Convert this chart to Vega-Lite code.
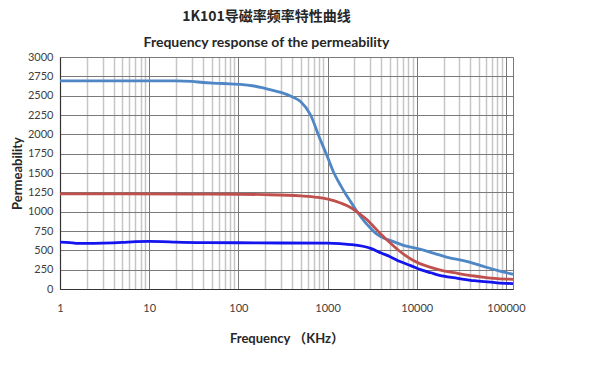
{
  "$schema": "https://vega.github.io/schema/vega-lite/v6.json",
  "width": 453,
  "height": 232,
  "autosize": {"type": "none"},
  "padding": {"left": 60, "top": 57, "right": 87, "bottom": 77},
  "background": "white",
  "title": {
    "text": "1K101导磁率频率特性曲线",
    "subtitle": "Frequency response of the permeability",
    "font": "Noto Sans CJK SC",
    "fontSize": 14,
    "fontWeight": "bold",
    "color": "#262626",
    "subtitleFont": "Lato",
    "subtitleFontSize": 14,
    "subtitleFontWeight": "bold",
    "subtitleColor": "#262626",
    "subtitlePadding": 12,
    "anchor": "middle",
    "frame": "group",
    "offset": 1,
    "dx": -20
  },
  "data": {
    "values": [
      {"freq": 1, "mu": 2690, "series": "A"},
      {"freq": 5, "mu": 2690, "series": "A"},
      {"freq": 20, "mu": 2690, "series": "A"},
      {"freq": 30, "mu": 2685, "series": "A"},
      {"freq": 40, "mu": 2670, "series": "A"},
      {"freq": 60, "mu": 2660, "series": "A"},
      {"freq": 81, "mu": 2652, "series": "A"},
      {"freq": 105, "mu": 2647, "series": "A"},
      {"freq": 150, "mu": 2625, "series": "A"},
      {"freq": 193, "mu": 2597, "series": "A"},
      {"freq": 250, "mu": 2565, "series": "A"},
      {"freq": 323, "mu": 2530, "series": "A"},
      {"freq": 400, "mu": 2485, "series": "A"},
      {"freq": 498, "mu": 2425, "series": "A"},
      {"freq": 645, "mu": 2250, "series": "A"},
      {"freq": 800, "mu": 1975, "series": "A"},
      {"freq": 993, "mu": 1715, "series": "A"},
      {"freq": 1180, "mu": 1500, "series": "A"},
      {"freq": 1400, "mu": 1340, "series": "A"},
      {"freq": 1600, "mu": 1225, "series": "A"},
      {"freq": 1812, "mu": 1130, "series": "A"},
      {"freq": 2158, "mu": 995, "series": "A"},
      {"freq": 2600, "mu": 870, "series": "A"},
      {"freq": 3041, "mu": 785, "series": "A"},
      {"freq": 3600, "mu": 705, "series": "A"},
      {"freq": 4300, "mu": 655, "series": "A"},
      {"freq": 5100, "mu": 625, "series": "A"},
      {"freq": 7870, "mu": 550, "series": "A"},
      {"freq": 10170, "mu": 522, "series": "A"},
      {"freq": 15670, "mu": 461, "series": "A"},
      {"freq": 22130, "mu": 410, "series": "A"},
      {"freq": 37150, "mu": 353, "series": "A"},
      {"freq": 52300, "mu": 302, "series": "A"},
      {"freq": 80000, "mu": 240, "series": "A"},
      {"freq": 120000, "mu": 190, "series": "A"},

      {"freq": 1, "mu": 1230, "series": "B"},
      {"freq": 30, "mu": 1228, "series": "B"},
      {"freq": 100, "mu": 1225, "series": "B"},
      {"freq": 200, "mu": 1220, "series": "B"},
      {"freq": 500, "mu": 1203, "series": "B"},
      {"freq": 765, "mu": 1185, "series": "B"},
      {"freq": 1035, "mu": 1160, "series": "B"},
      {"freq": 1400, "mu": 1112, "series": "B"},
      {"freq": 1812, "mu": 1055, "series": "B"},
      {"freq": 2350, "mu": 962, "series": "B"},
      {"freq": 2794, "mu": 892, "series": "B"},
      {"freq": 3300, "mu": 805, "series": "B"},
      {"freq": 3944, "mu": 712, "series": "B"},
      {"freq": 5100, "mu": 591, "series": "B"},
      {"freq": 6500, "mu": 485, "series": "B"},
      {"freq": 8570, "mu": 388, "series": "B"},
      {"freq": 11000, "mu": 325, "series": "B"},
      {"freq": 14370, "mu": 280, "series": "B"},
      {"freq": 20000, "mu": 235, "series": "B"},
      {"freq": 28640, "mu": 203, "series": "B"},
      {"freq": 44150, "mu": 168, "series": "B"},
      {"freq": 57030, "mu": 151, "series": "B"},
      {"freq": 80000, "mu": 135, "series": "B"},
      {"freq": 120000, "mu": 125, "series": "B"},

      {"freq": 1, "mu": 605, "series": "C"},
      {"freq": 1.3, "mu": 600, "series": "C"},
      {"freq": 1.5, "mu": 590, "series": "C"},
      {"freq": 2, "mu": 590, "series": "C"},
      {"freq": 3, "mu": 593, "series": "C"},
      {"freq": 5, "mu": 602, "series": "C"},
      {"freq": 7, "mu": 612, "series": "C"},
      {"freq": 10, "mu": 615, "series": "C"},
      {"freq": 14, "mu": 612, "series": "C"},
      {"freq": 20, "mu": 605, "series": "C"},
      {"freq": 44, "mu": 599, "series": "C"},
      {"freq": 100, "mu": 598, "series": "C"},
      {"freq": 300, "mu": 595, "series": "C"},
      {"freq": 1000, "mu": 592, "series": "C"},
      {"freq": 1812, "mu": 575, "series": "C"},
      {"freq": 3041, "mu": 526, "series": "C"},
      {"freq": 4000, "mu": 465, "series": "C"},
      {"freq": 5100, "mu": 415, "series": "C"},
      {"freq": 6500, "mu": 355, "series": "C"},
      {"freq": 8570, "mu": 302, "series": "C"},
      {"freq": 11000, "mu": 250, "series": "C"},
      {"freq": 14370, "mu": 210, "series": "C"},
      {"freq": 20000, "mu": 165, "series": "C"},
      {"freq": 28640, "mu": 138, "series": "C"},
      {"freq": 44150, "mu": 107, "series": "C"},
      {"freq": 57030, "mu": 94, "series": "C"},
      {"freq": 80000, "mu": 80, "series": "C"},
      {"freq": 120000, "mu": 69, "series": "C"}
    ]
  },
  "mark": {"type": "line", "interpolate": "monotone", "strokeWidth": 2.8, "clip": true},
  "encoding": {
    "x": {
      "field": "freq",
      "type": "quantitative",
      "scale": {"type": "log", "domain": [1, 120000], "nice": false},
      "axis": {
        "title": "Frequency （KHz）",
        "values": [1,2,3,4,5,6,7,8,9,10,20,30,40,50,60,70,80,90,100,200,300,400,500,600,700,800,900,1000,2000,3000,4000,5000,6000,7000,8000,9000,10000,20000,30000,40000,50000,60000,70000,80000,90000,100000],
        "labelExpr": "indexof([1,10,100,1000,10000,100000], datum.value) >= 0 ? format(datum.value, 'd') : ''",
        "labelOverlap": false,
        "labelBound": false,
        "labelFlush": false,
        "labelPadding": 13,
        "ticks": false,
        "grid": true,
        "gridColor": {"condition": {"test": "indexof([1,10,100,1000,10000,100000], datum.value) >= 0", "value": "#7a7a7a"}, "value": "#c6c6c6"},
        "gridWidth": {"condition": {"test": "indexof([1,10,100,1000,10000,100000], datum.value) >= 0", "value": 1}, "value": 1.5},
        "titlePadding": 19
      }
    },
    "y": {
      "field": "mu",
      "type": "quantitative",
      "scale": {"domain": [0, 3000], "nice": false},
      "axis": {
        "title": "Permeability",
        "values": [0,250,500,750,1000,1250,1500,1750,2000,2250,2500,2750,3000],
        "format": "d",
        "ticks": false,
        "labelPadding": 7,
        "grid": true,
        "gridColor": "#7a7a7a",
        "gridWidth": 1,
        "titlePadding": 3
      }
    },
    "color": {
      "field": "series",
      "type": "nominal",
      "scale": {"domain": ["A", "B", "C"], "range": ["#4F86C6", "#C0504D", "#1414EE"]},
      "legend": null
    }
  },
  "config": {
    "font": "Lato",
    "view": {"stroke": "#7a7a7a", "strokeWidth": 1},
    "axis": {
      "domainColor": "#333333",
      "domainWidth": 1.2,
      "labelFont": "Lato",
      "labelFontSize": 11,
      "labelColor": "#404040",
      "titleFont": "Lato, 'Noto Sans CJK SC'",
      "titleFontSize": 13,
      "titleFontWeight": "bold",
      "titleColor": "#262626"
    }
  }
}
